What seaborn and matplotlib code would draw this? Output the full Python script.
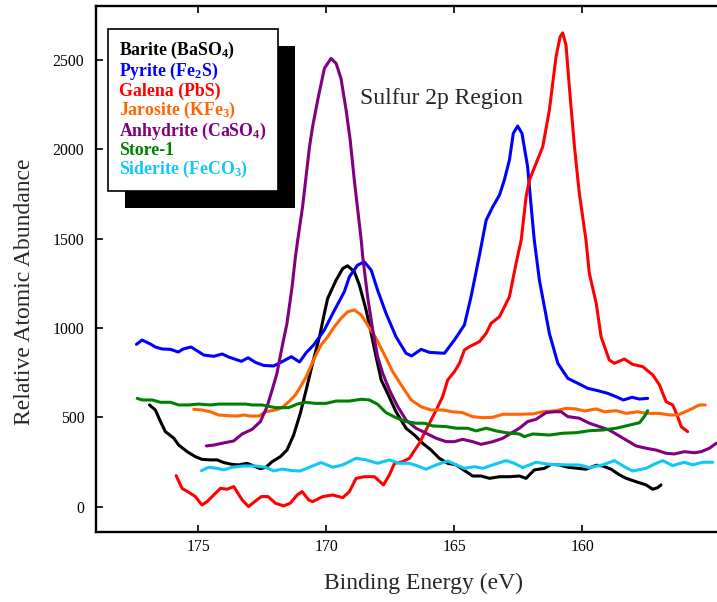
import numpy as np
import pandas as pd
import matplotlib
matplotlib.use('Agg')
import matplotlib.pyplot as plt
import seaborn as sns
from matplotlib.patches import Rectangle
from matplotlib.transforms import IdentityTransform

# binding energy (eV) / relative atomic abundance
barite_e = [176.91, 176.68, 176.48, 176.29, 175.96, 175.77, 175.44, 175.12, 174.86, 174.53,
            174.27, 174.01, 173.68, 173.43, 173.10, 172.84, 172.58, 172.36, 172.12, 171.80,
            171.54, 171.28, 171.02, 170.79, 170.54, 170.27, 170.08, 169.95, 169.62, 169.36,
            169.17, 168.91, 168.71, 168.45, 168.25, 168.06, 167.86, 167.61, 167.28, 166.89,
            166.56, 166.24, 165.91, 165.59, 165.26, 164.93, 164.54, 164.29, 163.96, 163.63,
            163.24, 162.85, 162.46, 162.20, 161.88, 161.48, 161.22, 160.90, 160.57, 160.18,
            159.86, 159.46, 159.21, 158.88, 158.55, 158.29, 157.90, 157.51, 157.25, 157.06, 156.93]
barite_a = [570, 542, 477, 421, 384, 346, 309, 281, 266, 263,
            263, 248, 238, 235, 244, 229, 214, 222, 253, 281,
            318, 402, 523, 654, 803, 951, 1082, 1166, 1268, 1333,
            1348, 1315, 1240, 1101, 970, 840, 710, 635, 532, 440,
            402, 356, 318, 272, 244, 235, 197, 173, 173, 160,
            169, 169, 173, 160, 207, 216, 238, 235, 222, 216,
            211, 233, 229, 211, 179, 160, 141, 123, 99, 108, 123]

pyrite_e = [177.42, 177.20, 176.88, 176.68, 176.42, 176.09, 175.79, 175.59, 175.29, 175.05,
            174.79, 174.40, 174.07, 173.82, 173.32, 173.06, 172.77, 172.45, 172.06, 171.73,
            171.37, 171.05, 170.79, 170.50, 170.08, 169.75, 169.30, 169.10, 168.78, 168.52,
            168.25, 168.00, 167.67, 167.28, 166.89, 166.67, 166.30, 165.98, 165.39, 165.00,
            164.61, 164.35, 164.02, 163.76, 163.50, 163.24, 163.05, 162.85, 162.70, 162.53,
            162.36, 162.14, 162.00, 161.88, 161.68, 161.29, 160.96, 160.57, 160.18, 159.79,
            159.40, 159.01, 158.68, 158.40, 158.06, 157.77, 157.45]
pyrite_a = [909, 933, 911, 894, 883, 881, 866, 883, 894, 873,
            849, 842, 855, 838, 814, 834, 808, 791, 788, 812,
            840, 810, 862, 905, 989, 1082, 1203, 1287, 1352, 1370,
            1324, 1212, 1082, 951, 859, 844, 881, 864, 859, 933,
            1017, 1175, 1408, 1603, 1678, 1743, 1827, 1939, 2088, 2129,
            2088, 1901, 1678, 1492, 1268, 970, 803, 719, 691, 663,
            650, 635, 616, 598, 613, 603, 607]

galena_e = [175.87, 175.64, 175.31, 175.12, 174.86, 174.66, 174.40, 174.14, 173.88, 173.62,
            173.29, 173.04, 172.80, 172.54, 172.28, 171.99, 171.67, 171.41, 171.14, 170.95,
            170.69, 170.54, 170.14, 169.75, 169.36, 169.10, 168.84, 168.52, 168.12, 167.77,
            167.54, 167.34, 167.02, 166.76, 166.37, 166.04, 165.71, 165.46, 165.26, 165.00,
            164.80, 164.61, 164.41, 164.02, 163.76, 163.57, 163.24, 162.85, 162.59, 162.39,
            162.20, 162.07, 161.81, 161.55, 161.29, 161.03, 160.87, 160.77, 160.64, 160.51,
            160.31, 160.12, 159.99, 159.86, 159.73, 159.46, 159.27, 158.95, 158.75, 158.36,
            158.04, 157.64, 157.25, 156.99, 156.73, 156.47, 156.28, 156.14, 155.89]
galena_a = [175, 104, 76, 58, 11, 30, 67, 104, 99, 114,
            39, 2, 30, 58, 58, 21, 6, 21, 67, 86,
            39, 30, 58, 67, 52, 86, 160, 169, 169, 123,
            179, 244, 253, 272, 356, 449, 542, 616, 710, 756,
            803, 877, 896, 924, 970, 1026, 1063, 1175, 1362, 1492,
            1734, 1827, 1920, 2013, 2218, 2516, 2628, 2650, 2581, 2348,
            2013, 1753, 1622, 1492, 1306, 1138, 951, 821, 803, 827,
            797, 784, 738, 682, 588, 570, 505, 449, 421]

jarosite_e = [175.18, 174.86, 174.53, 174.21, 173.82, 173.49, 173.23, 172.97, 172.64, 172.38,
              171.99, 171.73, 171.47, 171.21, 171.05, 170.79, 170.47, 170.21, 169.95, 169.69,
              169.43, 169.17, 168.91, 168.64, 168.39, 168.06, 167.73, 167.41, 167.08, 166.69,
              166.30, 165.91, 165.46, 165.07, 164.68, 164.29, 163.89, 163.50, 163.11, 162.46,
              161.94, 161.55, 161.03, 160.64, 160.25, 159.92, 159.46, 159.14, 158.68, 158.29,
              157.84, 157.51, 156.99, 156.60, 156.28, 155.82, 155.43, 155.20]
jarosite_a = [546, 542, 532, 514, 510, 508, 514, 508, 508, 532,
              542, 555, 588, 626, 663, 728, 831, 905, 951, 1007,
              1054, 1091, 1101, 1073, 1017, 943, 849, 756, 682, 598,
              560, 542, 542, 532, 527, 505, 499, 501, 518, 518,
              520, 532, 538, 551, 548, 536, 548, 532, 538, 523,
              532, 523, 523, 514, 514, 542, 570, 570]

anhydrite_e = [174.69, 174.40, 174.07, 173.62, 173.29, 172.90, 172.58, 172.32, 172.12, 171.93,
               171.73, 171.54, 171.34, 171.21, 171.12, 170.93, 170.66, 170.54, 170.34, 170.08,
               169.82, 169.62, 169.43, 169.23, 169.07, 168.91, 168.64, 168.58, 168.39, 168.19,
               168.00, 167.80, 167.54, 167.21, 166.89, 166.50, 166.11, 165.71, 165.32, 165.00,
               164.68, 164.29, 163.96, 163.50, 163.11, 162.79, 162.46, 162.14, 161.81, 161.42,
               161.09, 160.83, 160.57, 160.12, 159.73, 159.34, 158.95, 158.62, 158.29, 157.90,
               157.51, 157.12, 156.73, 156.41, 156.02, 155.62, 155.36, 155.04, 154.77]
anhydrite_a = [341, 346, 356, 369, 408, 434, 477, 560, 654, 747,
               896, 1026, 1231, 1398, 1492, 1678, 2013, 2125, 2274, 2451,
               2507, 2479, 2395, 2218, 2050, 1827, 1492, 1398, 1175, 989,
               840, 747, 654, 560, 486, 440, 412, 384, 365, 365,
               378, 365, 350, 365, 384, 412, 440, 477, 490, 527,
               532, 532, 505, 496, 468, 449, 430, 402, 374, 341,
               328, 318, 300, 296, 309, 303, 309, 328, 356]

store_e = [177.39, 177.20, 176.81, 176.48, 176.09, 175.77, 175.38, 174.99, 174.53, 174.21,
           173.68, 173.16, 172.90, 172.51, 171.99, 171.47, 171.14, 170.82, 170.43, 170.01,
           169.62, 169.10, 168.64, 168.32, 168.00, 167.67, 167.28, 166.89, 166.50, 166.17,
           165.85, 165.32, 164.93, 164.48, 164.15, 163.76, 163.37, 162.98, 162.46, 162.27,
           161.94, 161.29, 160.77, 160.25, 159.73, 159.21, 158.68, 158.29, 157.97, 157.77,
           157.58, 157.45]
store_a = [607, 598, 598, 585, 585, 570, 570, 575, 570, 575,
           575, 575, 570, 570, 555, 555, 575, 585, 579, 579,
           592, 592, 602, 598, 574, 527, 499, 477, 468, 468,
           453, 449, 440, 440, 425, 440, 425, 415, 408, 393,
           408, 402, 412, 415, 426, 430, 440, 453, 464, 471,
           505, 538]

siderite_e = [174.88, 174.60, 174.27, 174.01, 173.68, 173.23, 172.77, 172.38, 172.06, 171.73,
              171.34, 171.02, 170.66, 170.21, 169.75, 169.36, 168.84, 168.45, 168.00, 167.54,
              167.15, 166.76, 166.43, 166.11, 165.71, 165.26, 164.93, 164.61, 164.22, 163.89,
              163.50, 162.98, 162.66, 162.33, 161.81, 161.29, 160.64, 160.12, 159.73, 159.21,
              158.75, 158.36, 158.04, 157.51, 157.12, 156.86, 156.47, 156.02, 155.69, 155.30, 154.91]
siderite_a = [203, 222, 216, 207, 222, 229, 229, 222, 201, 212,
              203, 201, 222, 248, 222, 235, 272, 263, 244, 263,
              244, 244, 229, 211, 235, 257, 235, 216, 225, 216,
              235, 259, 244, 220, 250, 238, 235, 235, 220, 235,
              259, 225, 201, 216, 244, 259, 231, 250, 235, 250, 250]

minerals = ['Barite', 'Pyrite', 'Galena', 'Jarosite', 'Anhydrite', 'Store-1', 'Siderite']
labels = ['Barite (BaSO$_4$)', 'Pyrite (Fe$_2$S)', 'Galena (PbS)', 'Jarosite (KFe$_3$)',
          'Anhydrite (CaSO$_4$)', 'Store-1', 'Siderite (FeCO$_3$)']
colors = ['#000000', '#0000ff', '#ff0000', '#ff6600', '#800080', '#008000', '#10c8f5']
energies = [barite_e, pyrite_e, galena_e, jarosite_e, anhydrite_e, store_e, siderite_e]
abund = [barite_a, pyrite_a, galena_a, jarosite_a, anhydrite_a, store_a, siderite_a]

frames = []
for name, e, a in zip(minerals, energies, abund):
    frames.append(pd.DataFrame({'energy': e, 'abundance': a, 'mineral': name}))
df = pd.concat(frames, ignore_index=True)

sns.set_style('ticks')
plt.rcParams['font.family'] = ['Liberation Serif', 'DejaVu Serif']
plt.rcParams['mathtext.default'] = 'regular'

fig = plt.figure(figsize=(7.17, 6.02), dpi=100)
# axes runs past the right edge of the picture, like the cropped original
ax = fig.add_axes([96 / 717, 70 / 602, 640 / 717, 526 / 602])

sns.lineplot(data=df, x='energy', y='abundance', hue='mineral', hue_order=minerals,
             palette=dict(zip(minerals, colors)), estimator=None, sort=False,
             lw=2.2, legend=False, ax=ax)
for ln in ax.get_lines():
    ln.set_solid_joinstyle('round')

ax.set_xlim(179, 154)
ax.set_ylim(-140, 2800)
ax.set_xticks([175, 170, 165, 160])
ax.set_yticks([0, 500, 1000, 1500, 2000, 2500])
ax.tick_params(direction='in', top=True, right=False, length=5, width=1.2,
               labelsize=11.3, colors='black')
ax.tick_params(axis='x', pad=5)
ax.tick_params(axis='y', pad=8.5)
for s in ['left', 'bottom', 'top']:
    ax.spines[s].set_linewidth(1.7)
    ax.spines[s].set_color('black')
ax.spines['right'].set_visible(False)

ax.set_xlabel('Binding Energy (eV)', fontsize=17)
ax.set_ylabel('Relative Atomic Abundance', fontsize=17)
ax.xaxis.set_label_coords(0.5125, -0.077)
ax.yaxis.set_label_coords(-0.095, 0.456)

ax.text(0.4125, 0.8137, 'Sulfur 2p Region', fontsize=17, ha='left', va='baseline',
        transform=ax.transAxes)

leg = ax.legend(ax.get_lines(), labels, loc='upper left', bbox_to_anchor=(0.01875, 0.9563),
                borderaxespad=0, handlelength=0, handletextpad=0, fancybox=False,
                framealpha=1, edgecolor='black', prop={'weight': 'bold', 'size': 12.8},
                labelcolor=colors, borderpad=0.62, labelspacing=0.0)
for h in leg.legend_handles:
    h.set_visible(False)
leg.get_frame().set_linewidth(1.2)
leg.set_zorder(6)

# black drop shadow behind the legend box
fig.canvas.draw()
bb = leg.get_window_extent()
shadow = Rectangle((bb.x0 + 17, bb.y0 - 17), bb.width, bb.height, transform=IdentityTransform(),
                   facecolor='black', edgecolor='none', zorder=5.5, clip_on=False)
ax.add_artist(shadow)

fig.savefig('out.png', dpi=100)
